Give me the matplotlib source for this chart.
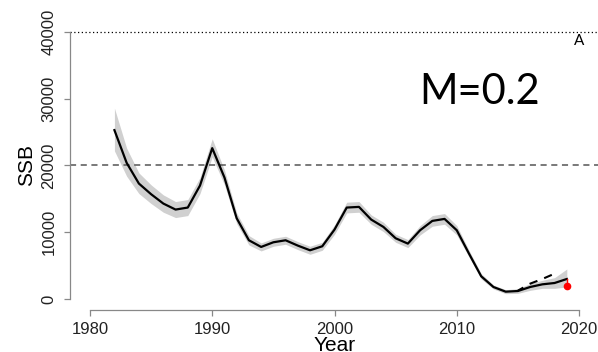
import numpy as np
import matplotlib.pyplot as plt

# Spawning stock biomass estimates with confidence band
years = list(range(1982, 2020))
ssb = [25300, 20400, 17300, 15700, 14300, 13400, 13700, 17000, 22600, 18200,
       12100, 8800, 7800, 8500, 8800, 8000, 7300, 7900, 10400, 13700,
       13800, 11900, 10800, 9100, 8300, 10300, 11700, 12000, 10300, 6800,
       3400, 1800, 1100, 1200, 1800, 2200, 2400, 3000]
ssb_lo = [22200, 18400, 15800, 14300, 13000, 12200, 12500, 15800, 21300, 17100,
          11300, 8100, 7200, 7900, 8200, 7400, 6700, 7300, 9700, 12900,
          13000, 11200, 10100, 8500, 7700, 9600, 10900, 11200, 9600, 6300,
          3000, 1500, 800, 850, 1300, 1600, 1600, 1800]
ssb_hi = [28600, 22600, 18900, 17100, 15600, 14600, 14900, 18200, 24000, 19300,
          12900, 9500, 8400, 9100, 9400, 8600, 7900, 8500, 11100, 14500,
          14600, 12600, 11500, 9700, 8900, 11000, 12500, 12800, 11000, 7300,
          3800, 2100, 1400, 1550, 2300, 2800, 3200, 4500]

# Retrospective peel and the final-year point
peel_years = [2015, 2016, 2017, 2018]
peel_ssb = [1250, 2300, 3000, 3800]
point_year = 2019
point_ssb = 1950

ref_dash = 20000
ref_dot = 40000

plt.rcParams['font.family'] = ['Liberation Sans', 'DejaVu Sans']

fig = plt.figure(figsize=(5.98, 3.52), dpi=100)
W, H = 598, 352
left, right = 70.4, 598.6
bottom, top = 309.7, 21.3
ax = fig.add_axes([left / W, (H - bottom) / H, (right - left) / W, (bottom - top) / H])
ax.set_xlim(1978.4, 2021.6)
ax.set_ylim(-1600, 41600)

ax.fill_between(years, ssb_lo, ssb_hi, color="#d0d0d0", lw=0, zorder=1)
ax.plot(years, ssb, color="black", lw=1.6, zorder=3)
ax.plot(peel_years, peel_ssb, color="black", lw=1.5, ls=(1, (4, 3.5)), zorder=3)
# red link from the last estimate down to the point
ax.plot([point_year, point_year], [ssb[-1], point_ssb], color="red", lw=1.0, zorder=4)
ax.plot(point_year, point_ssb, "o", color="red", ms=4.5, zorder=4)

ax.axhline(ref_dash, color="#555555", lw=1.1, ls=(0, (4, 3)), zorder=2)
ax.axhline(ref_dot, color="black", lw=0.9, ls=(0, (1, 2)), zorder=2)

for s in ["top", "right"]:
    ax.spines[s].set_visible(False)
ax.spines["left"].set_bounds(0, 40000)
ax.spines["bottom"].set_bounds(1980, 2020)
for s in ["left", "bottom"]:
    ax.spines[s].set_color("#888888")
    ax.spines[s].set_linewidth(0.9)

ax.set_xticks([1980, 1990, 2000, 2010, 2020])
ax.set_yticks([0, 10000, 20000, 30000, 40000])
ax.tick_params(axis="both", colors="#888888", length=4, width=0.9,
               labelcolor="#222222", labelsize=12)
ax.tick_params(axis="y", pad=6)
ax.tick_params(axis="x", pad=5)
for lab in ax.get_yticklabels():
    lab.set_rotation(90)
    lab.set_va("center")

ax.set_xlabel("Year", fontsize=15, labelpad=-1)
ax.set_ylabel("SSB", fontsize=15, labelpad=4)

ax.text(2020, ref_dot - 300, "A", ha="center", va="top", fontsize=11,
        family="Lato")
fig.text(480 / W, 1 - 104 / H, "M=0.2", ha="center", va="baseline",
         fontsize=30, family="Lato")

fig.savefig("out.png", dpi=100)
